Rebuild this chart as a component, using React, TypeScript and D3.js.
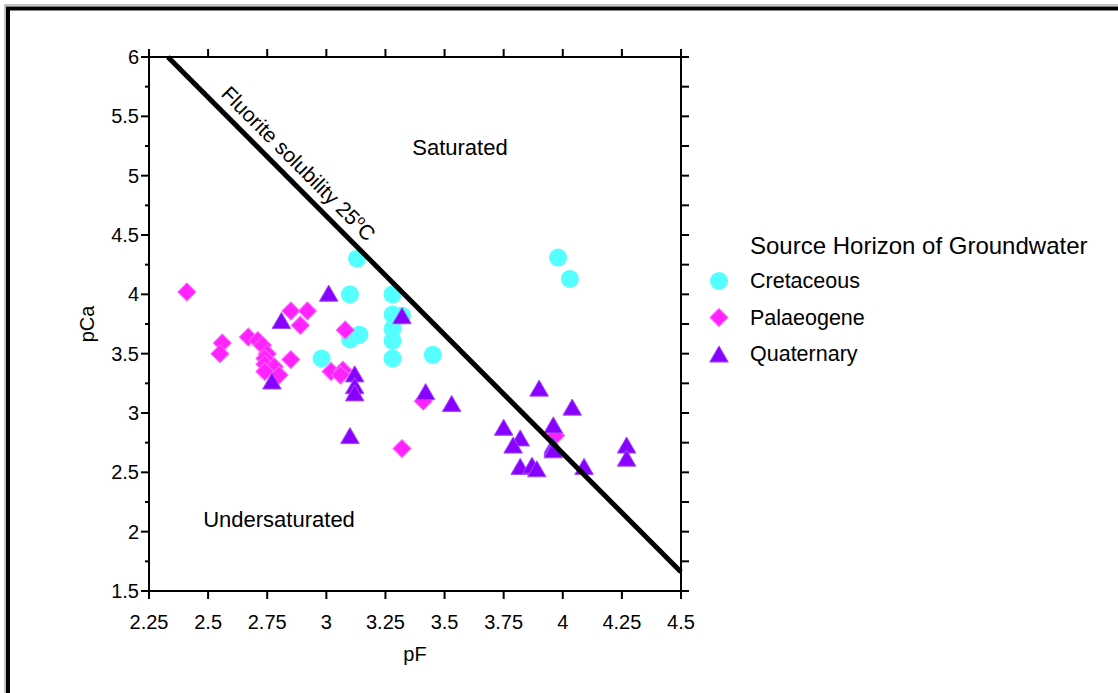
import React from "react";
import * as d3 from "d3";

// pF / pCa of groundwater samples, grouped by source horizon
const cretaceousPF = [3.13, 3.10, 3.28, 3.28, 3.28, 3.28, 3.28, 3.14, 3.10, 2.98, 3.45, 3.98, 4.03, 3.32];
const cretaceousPCa = [4.30, 4.00, 4.00, 3.83, 3.71, 3.61, 3.46, 3.66, 3.62, 3.46, 3.49, 4.31, 4.13, 3.82];

const palaeogenePF = [2.41, 2.85, 2.92, 2.89, 2.56, 2.55, 2.67, 2.71, 2.73, 2.75, 2.74, 2.74, 2.78, 2.74, 2.80, 2.85, 3.02, 3.07, 3.06, 3.08, 3.41, 3.32, 3.97];
const palaeogenePCa = [4.02, 3.86, 3.86, 3.74, 3.59, 3.50, 3.64, 3.61, 3.57, 3.50, 3.46, 3.41, 3.39, 3.35, 3.32, 3.45, 3.35, 3.36, 3.32, 3.70, 3.10, 2.70, 2.81];

const quaternaryPF = [3.01, 2.81, 2.77, 3.32, 3.12, 3.12, 3.12, 3.10, 3.42, 3.53, 3.90, 4.04, 3.75, 3.82, 3.79, 3.96, 3.96, 3.96, 3.96, 3.82, 3.87, 3.89, 4.09, 4.27, 4.27];
const quaternaryPCa = [4.01, 3.78, 3.27, 3.82, 3.33, 3.23, 3.17, 2.81, 3.18, 3.08, 3.21, 3.05, 2.88, 2.79, 2.73, 2.90, 2.73, 2.71, 2.69, 2.55, 2.56, 2.53, 2.55, 2.73, 2.62];

// Fluorite saturation line at 25 °C (pCa = 10.66 - 2 pF)
const fluoritePF = [2.33, 4.5];
const fluoritePCa = [6.0, 1.66];

const xTicks = [2.25, 2.5, 2.75, 3, 3.25, 3.5, 3.75, 4, 4.25, 4.5];
const yMajorTicks = [1.5, 2, 2.5, 3, 3.5, 4, 4.5, 5, 5.5, 6];
const yMinorTicks = [1.75, 2.25, 2.75, 3.25, 3.75, 4.25, 4.75, 5.25, 5.75];

const seriesNames = ["Cretaceous", "Palaeogene", "Quaternary"];
const legendTitle = "Source Horizon of Groundwater";

const W = 1118;
const H = 693;
const FONT = "'Liberation Sans', Arial, Helvetica, sans-serif";

const CYAN = "#55ffff";
const MAGENTA = "#ff22ff";
const PURPLE = "#8800ff";

const x = d3.scaleLinear().domain([2.25, 4.5]).range([149, 681]);
const y = d3.scaleLinear().domain([1.5, 6]).range([591, 57]);

const circlePath = d3.symbol(d3.symbolCircle, Math.PI * 9 * 9)()!;
const diamondPath = d3.symbol(d3.symbolSquare, 162)()!;
const triSize = 150;
const trianglePath = d3.symbol(d3.symbolTriangle, triSize)()!;
// shift so the triangle's bounding box is centred on the point
const triShift = Math.sqrt(triSize / (Math.sqrt(3) * 3)) / 2;

function Marker({ kind, cx, cy }: { kind: number; cx: number; cy: number }) {
  if (kind === 0) {
    return <path d={circlePath} transform={`translate(${cx},${cy})`} fill={CYAN} />;
  }
  if (kind === 1) {
    return (
      <path
        d={diamondPath}
        transform={`translate(${cx},${cy}) rotate(45)`}
        fill={MAGENTA}
        stroke="#ff66ff"
        strokeWidth={1}
      />
    );
  }
  return (
    <path
      d={trianglePath}
      transform={`translate(${cx},${cy + triShift})`}
      fill={PURPLE}
      stroke="#a64dff"
      strokeWidth={1}
    />
  );
}

export default function App() {
  const [x0, x1] = x.range();
  const [yb, yt] = y.range();

  const series = [
    { pf: cretaceousPF, pca: cretaceousPCa },
    { pf: palaeogenePF, pca: palaeogenePCa },
    { pf: quaternaryPF, pca: quaternaryPCa },
  ];

  const lx0 = x(fluoritePF[0]);
  const ly0 = y(fluoritePCa[0]);
  const lx1 = x(fluoritePF[1]);
  const ly1 = y(fluoritePCa[1]);
  const angle = (Math.atan2(ly1 - ly0, lx1 - lx0) * 180) / Math.PI;

  // label anchor: a point on the line, pushed off it perpendicular
  const labelPF = 2.52;
  const t = (labelPF - fluoritePF[0]) / (fluoritePF[1] - fluoritePF[0]);
  const ax = lx0 + t * (lx1 - lx0);
  const ay = ly0 + t * (ly1 - ly0);
  const len = Math.hypot(lx1 - lx0, ly1 - ly0);
  const nx = (ly1 - ly0) / len;
  const ny = -(lx1 - lx0) / len;
  const off = 10;
  const tx = ax + nx * off;
  const ty = ay + ny * off;

  const axisStroke = 2;

  return (
    <svg
      width={W}
      height={H}
      viewBox={`0 0 ${W} ${H}`}
      style={{ position: "absolute", left: 0, top: 0, background: "#fff" }}
      fontFamily={FONT}
    >
      <rect x={0} y={0} width={W} height={H} fill="#fff" />
      {/* outer frame */}
      <rect x={5} y={5} width={W + 50} height={H + 50} fill="none" stroke="#888" strokeWidth={1} />
      <rect x={8} y={8.5} width={W + 50} height={H + 50} fill="none" stroke="#000" strokeWidth={4} />

      {/* data */}
      {series.map((s, k) => (
        <g key={k}>
          {s.pf.map((v, i) => (
            <Marker key={i} kind={k} cx={x(v)} cy={y(s.pca[i])} />
          ))}
        </g>
      ))}

      {/* fluorite solubility line */}
      <line x1={lx0} y1={ly0} x2={lx1} y2={ly1} stroke="#000" strokeWidth={5} />
      <text
        x={tx}
        y={ty}
        transform={`rotate(${angle},${tx},${ty})`}
        fontSize={21}
        fill="#000"
      >
        Fluorite solubility 25
        <tspan fontSize={13} dy={-8}>o</tspan>
        <tspan dy={8}>C</tspan>
      </text>

      {/* plot frame */}
      <g stroke="#000" strokeWidth={axisStroke} fill="none">
        <line x1={x0} y1={yb} x2={x1} y2={yb} />
        <line x1={x0} y1={yt} x2={x1} y2={yt} />
        <line x1={x0} y1={yb} x2={x0} y2={yt} />
        <line x1={x1} y1={yb} x2={x1} y2={yt} />
        {xTicks.map((v) => (
          <g key={"xt" + v}>
            <line x1={x(v)} x2={x(v)} y1={yb} y2={yb + 8} />
            <line x1={x(v)} x2={x(v)} y1={yt} y2={yt - 8} />
          </g>
        ))}
        {yMajorTicks.map((v) => (
          <g key={"ym" + v}>
            <line x1={x0} x2={x0 - 8} y1={y(v)} y2={y(v)} />
            <line x1={x1} x2={x1 + 8} y1={y(v)} y2={y(v)} />
          </g>
        ))}
        {yMinorTicks.map((v) => (
          <g key={"yn" + v}>
            <line x1={x0} x2={x0 - 4} y1={y(v)} y2={y(v)} />
            <line x1={x1} x2={x1 + 8} y1={y(v)} y2={y(v)} />
          </g>
        ))}
      </g>

      {/* tick labels */}
      <g fontSize={20} fill="#000">
        {xTicks.map((v) => (
          <text key={"xl" + v} x={x(v)} y={yb + 31} textAnchor="middle" dominantBaseline="central">
            {String(v)}
          </text>
        ))}
        {yMajorTicks.map((v) => (
          <text key={"yl" + v} x={x0 - 10} y={y(v)} textAnchor="end" dominantBaseline="central">
            {String(v)}
          </text>
        ))}
      </g>

      {/* axis titles */}
      <text x={(x0 + x1) / 2} y={654} textAnchor="middle" dominantBaseline="central" fontSize={20}>
        pF
      </text>
      <text
        x={87}
        y={324}
        transform={`rotate(-90,87,324)`}
        textAnchor="middle"
        dominantBaseline="central"
        fontSize={20}
      >
        pCa
      </text>

      {/* region annotations */}
      <text x={x(3.565)} y={y(5.24)} textAnchor="middle" dominantBaseline="central" fontSize={22}>
        Saturated
      </text>
      <text x={x(2.8)} y={y(2.1)} textAnchor="middle" dominantBaseline="central" fontSize={22}>
        Undersaturated
      </text>

      {/* legend */}
      <text x={750} y={245} dominantBaseline="central" fontSize={24}>
        {legendTitle}
      </text>
      {seriesNames.map((name, k) => {
        const ly = 281 + k * 36.5;
        return (
          <g key={name}>
            <Marker kind={k} cx={719} cy={ly} />
            <text x={750} y={ly} dominantBaseline="central" fontSize={21.5}>
              {name}
            </text>
          </g>
        );
      })}
    </svg>
  );
}
